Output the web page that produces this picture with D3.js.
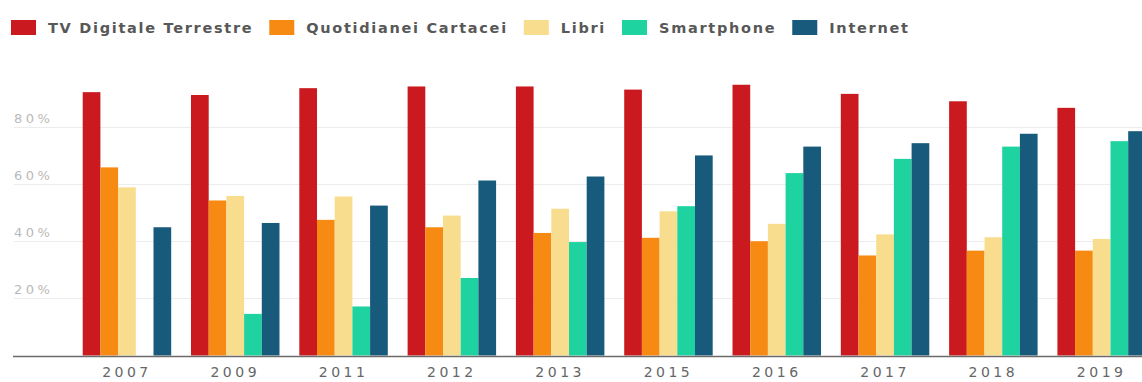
<!DOCTYPE html>
<html>
<head>
<meta charset="utf-8">
<script src="https://cdn.jsdelivr.net/npm/d3@7"></script>
<style>
  html, body { margin: 0; padding: 0; background: #fff; }
  svg { display: block; }
</style>
</head>
<body>
<svg id="chart" width="1142" height="382"></svg>
<script>
// Share of Italians using each medium, by year (%)
const years = ["2007", "2009", "2011", "2012", "2013", "2015", "2016", "2017", "2018", "2019"];
const seriesNames = ["TV Digitale Terrestre", "Quotidianei Cartacei", "Libri", "Smartphone", "Internet"];
const tvDigitale   = [92.4, 91.4, 93.8, 94.4, 94.4, 93.3, 95.0, 91.8, 89.2, 86.9];
const quotidiani   = [66.0, 54.4, 47.6, 45.0, 43.0, 41.3, 40.1, 35.1, 36.8, 36.8];
const libri        = [59.0, 56.0, 55.8, 49.1, 51.5, 50.6, 46.2, 42.5, 41.5, 40.9];
const smartphone   = [null, 14.6, 17.2, 27.2, 39.8, 52.4, 64.0, 69.0, 73.3, 75.2];
const internet     = [45.0, 46.5, 52.6, 61.4, 62.8, 70.2, 73.3, 74.5, 77.8, 78.7];
const yTicks = [20, 40, 60, 80];
const seriesColors = ["#cb1a1f", "#f78a12", "#f9dd8f", "#1fd3a1", "#185a7b"];

const seriesValues = [tvDigitale, quotidiani, libri, smartphone, internet];
const svg = d3.select("#chart");

const x0 = d3.scaleBand()
  .domain(years)
  .range([72.8, 1155.8])
  .paddingInner(0.183)
  .paddingOuter(0.0915);

const x1 = d3.scaleBand()
  .domain(seriesNames)
  .range([0, x0.bandwidth()])
  .padding(0);

const y = d3.scaleLinear().domain([0, 100]).range([355.5, 70.5]);

const color = d3.scaleOrdinal().domain(seriesNames).range(seriesColors);

// grid lines
svg.append("g")
  .selectAll("line")
  .data(yTicks)
  .join("line")
  .attr("x1", 14).attr("x2", 1142)
  .attr("y1", d => y(d)).attr("y2", d => y(d))
  .attr("stroke", "#ececec")
  .attr("stroke-width", 1);

// y tick labels, placed just above their grid lines
svg.append("g")
  .selectAll("text")
  .data(yTicks)
  .join("text")
  .attr("x", 14)
  .attr("y", d => y(d) - 5)
  .attr("font-family", "DejaVu Sans, sans-serif")
  .attr("font-size", 13)
  .attr("letter-spacing", 3.5)
  .attr("fill", "#b9b9b9")
  .text(d => d + "%");

// grouped bars
const groups = svg.append("g")
  .selectAll("g")
  .data(years)
  .join("g")
  .attr("transform", d => `translate(${x0(d)},0)`);

groups.selectAll("rect")
  .data((yr, i) => seriesNames.map((s, k) => ({ series: s, value: seriesValues[k][i] })).filter(d => d.value != null))
  .join("rect")
  .attr("x", d => x1(d.series))
  .attr("width", x1.bandwidth())
  .attr("y", d => y(d.value))
  .attr("height", d => y(0) - y(d.value))
  .attr("fill", d => color(d.series));

// x axis baseline and year labels
const xAxis = d3.axisBottom(x0).tickSize(0).tickPadding(0);
const xg = svg.append("g")
  .attr("transform", `translate(0,${y(0)})`)
  .call(xAxis);
xg.select(".domain").remove();
xg.selectAll("text")
  .attr("dy", null)
  .attr("y", 21)
  .attr("font-family", "DejaVu Sans, sans-serif")
  .attr("font-size", 14)
  .attr("letter-spacing", 3.5)
  .attr("fill", "#666");

svg.append("line")
  .attr("x1", 13).attr("x2", 1142)
  .attr("y1", y(0) + 1).attr("y2", y(0) + 1)
  .attr("stroke", "#6b6b6b")
  .attr("stroke-width", 1.5);

// legend
const legend = svg.append("g").attr("transform", "translate(11,20)");
let lx = 0;
seriesNames.forEach(name => {
  const item = legend.append("g").attr("transform", `translate(${lx},0)`);
  item.append("rect")
    .attr("width", 25).attr("height", 15)
    .attr("fill", color(name));
  const t = item.append("text")
    .attr("x", 37)
    .attr("y", 13)
    .attr("font-family", "DejaVu Sans, sans-serif")
    .attr("font-weight", "bold")
    .attr("font-size", 14.5)
    .attr("letter-spacing", 1.7)
    .attr("fill", "#585858")
    .text(name);
  lx += 37 + t.node().getComputedTextLength() + 16;
});
</script>
</body>
</html>
